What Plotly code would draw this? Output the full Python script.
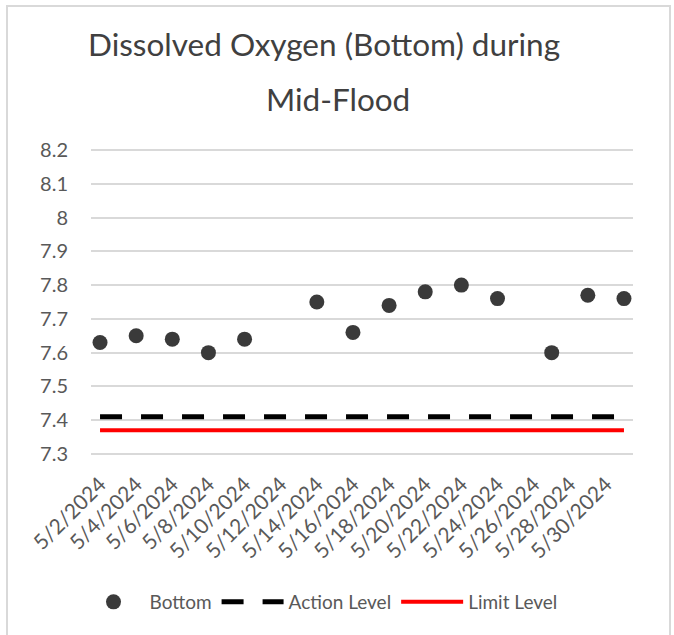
import plotly.graph_objects as go

# Data
dates = ["2024-05-02", "2024-05-04", "2024-05-06", "2024-05-08", "2024-05-10",
         "2024-05-14", "2024-05-16", "2024-05-18", "2024-05-20", "2024-05-22",
         "2024-05-24", "2024-05-27", "2024-05-29", "2024-05-31"]
bottom = [7.63, 7.65, 7.64, 7.60, 7.64, 7.75, 7.66, 7.74, 7.78, 7.80, 7.76, 7.60, 7.77, 7.76]
level_dates = ["2024-05-02", "2024-05-31"]
action_level = [7.41, 7.41]
limit_level = [7.37, 7.37]
tick_dates = ["2024-05-%02d" % d for d in range(2, 31, 2)]
tick_labels = ["5/%d/2024" % d for d in range(2, 31, 2)]
y_ticks = [7.3, 7.4, 7.5, 7.6, 7.7, 7.8, 7.9, 8.0, 8.1, 8.2]
y_tick_labels = ["7.3", "7.4", "7.5", "7.6", "7.7", "7.8", "7.9", "8", "8.1", "8.2"]

FONT = "Lato"
TXT = "#595959"
TITLE = "#404040"

fig = go.Figure()
fig.add_trace(go.Scatter(x=dates, y=bottom, mode="markers", name="Bottom",
                         marker=dict(color="#3a3a3a", size=15)))
fig.add_trace(go.Scatter(x=level_dates, y=action_level, mode="lines", name="Action Level",
                         line=dict(color="black", width=5, dash="22px,19px")))
fig.add_trace(go.Scatter(x=level_dates, y=limit_level, mode="lines", name="Limit Level",
                         line=dict(color="#ff0000", width=4)))

L, R, T, B = 91, 633, 147, 457
W, H = 674, 635
pw, ph = R - L, B - T

def px(x):
    return (x - L) / pw

def py(y):
    return (B - y) / ph

fig.update_layout(
    width=W, height=H,
    margin=dict(l=L, r=W - R, t=T, b=H - B),
    paper_bgcolor="white", plot_bgcolor="white",
    font=dict(family=FONT, color=TXT, size=19),
    showlegend=True,
    legend=dict(orientation="h", x=px(320), xanchor="center", y=py(602), yanchor="middle",
                font=dict(size=19, color=TXT), itemwidth=62, traceorder="normal"),
    annotations=[
        dict(text="Dissolved Oxygen (Bottom) during", x=px(324), y=py(44), xref="paper", yref="paper",
             showarrow=False, font=dict(size=31.5, color=TITLE, family=FONT), xanchor="center", yanchor="middle"),
        dict(text="Mid-Flood", x=px(338), y=py(99), xref="paper", yref="paper",
             showarrow=False, font=dict(size=31.5, color=TITLE, family=FONT), xanchor="center", yanchor="middle"),
    ],
    shapes=[
        dict(type="rect", xref="paper", yref="paper", x0=px(7), x1=px(670), y0=py(6), y1=py(660),
             line=dict(color="#d9d9d9", width=2), fillcolor="rgba(0,0,0,0)", layer="below"),
    ],
)
fig.update_xaxes(type="date", range=["2024-05-01 12:00", "2024-05-31 12:00"],
                 tickvals=tick_dates, ticktext=tick_labels, tickangle=-45,
                 showgrid=False, showline=False, zeroline=False, ticks="",
                 ticklabelstandoff=10,
                 tickfont=dict(size=21, color=TXT))
fig.update_yaxes(range=[7.291, 8.209], tickvals=y_ticks, ticktext=y_tick_labels,
                 showgrid=True, gridcolor="#d9d9d9", gridwidth=1.5, zeroline=False,
                 showline=False, ticks="", ticklabelstandoff=22,
                 tickfont=dict(size=20, color=TXT))

fig.write_html("out.html", config={"displayModeBar": False},
               post_script="document.body.style.margin='0px';document.body.style.overflow='hidden';")
